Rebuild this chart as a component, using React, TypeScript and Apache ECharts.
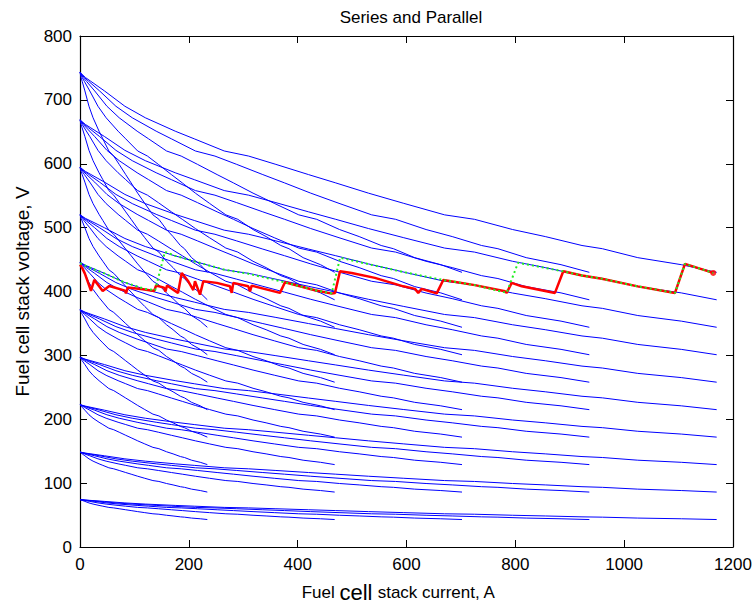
import React, { useEffect, useRef } from "react";
import * as echarts from "echarts";

// Single-stack polarization curve (A, V)
const baseCurrent = [0, 2, 4, 9, 16.5, 24, 35, 42, 53, 62, 72, 84, 94, 106, 119, 134, 145, 159, 171, 184.5, 192, 205, 221, 234];
const baseVoltage = [74.3, 73.5, 72.9, 71.4, 69.0, 67.2, 65.1, 63.9, 62.0, 61.2, 59.9, 58.3, 57.0, 55.4, 53.8, 52.0, 51.3, 49.7, 48.6, 47.2, 46.7, 45.3, 44.2, 43.0];

// Stacks in series and in parallel
const seriesCounts = [1, 2, 3, 4, 5, 6, 7, 8, 9, 10];
const parallelCounts = [1, 2, 3, 4, 5];

// Green dotted path
const greenCurrent = [0, 9, 18.5, 46, 82.5, 119.5, 138, 156, 174.5, 211, 266, 308.5, 376.7, 431.8, 462.5, 478, 529, 597, 667.6, 725.5, 784, 805, 854.5, 888, 922.5, 959, 1025, 1093.4, 1111.7, 1163.7];
const greenVoltage = [444, 441, 437, 428, 414, 404, 402, 462, 456, 447, 434, 428, 414.4, 402, 397, 453, 443, 430, 418, 410, 398, 445, 437, 431.6, 425, 420, 408, 397.8, 443.2, 429.1];

// Red operating path
const redCurrent = [0, 4, 9, 20.2, 26.3, 41.7, 53.8, 82.7, 84.5, 87.7, 115.2, 136.5, 139.7, 154.4, 157.1, 159.9, 180.1, 186.9, 199, 208.2, 211.3, 220.5, 226.6, 251.2, 275.6, 278.8, 281.7, 309.3, 312.4, 315.5, 367.5, 376.7, 431.8, 462.5, 468.6, 477.8, 499.3, 542.1, 594.1, 615.6, 621.6, 627.9, 655.5, 667.6, 725.5, 781, 784.1, 793.3, 811.7, 872.8, 888.1, 922.5, 959, 1025, 1093.4, 1111.7, 1163.7];
const redVoltage = [441.7, 437, 428, 400.9, 418.2, 400.9, 408.5, 401.4, 397.2, 406.1, 403.4, 400.9, 409.3, 406.1, 399.9, 409.3, 397.8, 429.1, 416, 402.2, 416, 395.1, 416, 413.5, 408.1, 397.8, 413.5, 408.1, 400.3, 409.2, 397.8, 414.4, 402, 396.7, 397.8, 431.6, 429.1, 421.3, 408.1, 404.1, 397.8, 404.1, 397, 418, 410, 400.3, 397.8, 413.5, 408.1, 397.8, 431.6, 425, 420, 408, 397.8, 443.2, 429.1];

const xTicks = { min: 0, max: 1200, interval: 200 };
const yTicks = { min: 0, max: 800, interval: 100 };

const FONT = "'Liberation Sans', Arial, Helvetica, sans-serif";

export default function App() {
  const ref = useRef<HTMLDivElement>(null);
  useEffect(() => {
    if (!ref.current) return;
    const chart = echarts.init(ref.current, null, { renderer: "svg" });
    const blue: any[] = [];
    seriesCounts.forEach((n) => {
      parallelCounts.forEach((m) => {
        blue.push({
          type: "line",
          name: `S${n}P${m}`,
          data: baseCurrent.map((c, k) => [c * m, baseVoltage[k] * n]),
          showSymbol: false,
          symbol: "none",
          lineStyle: { color: "#0000ff", width: 1 },
          silent: true,
          z: 2,
        });
      });
    });
    const axisCommon = {
      axisLine: { show: true, onZero: false, lineStyle: { color: "#000", width: 1.2 } },
      axisTick: { show: true, inside: true, length: 7, lineStyle: { color: "#000", width: 1 } },
      splitLine: { show: false },
    };
    const fmt = (v: number) => String(v);
    chart.setOption({
      animation: false,
      backgroundColor: "#fff",
      textStyle: { fontFamily: FONT },
      title: {
        text: "Series and Parallel",
        left: 406,
        top: 4,
        textAlign: "center",
        textStyle: { fontSize: 17, fontWeight: "normal", color: "#000", fontFamily: FONT },
      },
      grid: { left: 80, top: 36, width: 653, height: 511, containLabel: false, outerBoundsMode: "none" },
      xAxis: [
        {
          type: "value",
          position: "bottom",
          ...xTicks,
          ...axisCommon,
          axisLabel: { fontSize: 17, color: "#000", margin: 9, fontFamily: FONT, formatter: fmt },
          name: "Fuel {big|cell} stack current, A",
          nameLocation: "middle",
          nameGap: 34,
          nameTextStyle: {
            fontSize: 17,
            color: "#000",
            fontFamily: FONT,
            padding: [0, 16, 0, 0],
            rich: { big: { fontSize: 22, color: "#000", fontFamily: FONT } },
          },
        },
        {
          type: "value",
          position: "top",
          ...xTicks,
          ...axisCommon,
          axisLabel: { show: false },
        },
      ],
      yAxis: [
        {
          type: "value",
          position: "left",
          ...yTicks,
          ...axisCommon,
          axisLabel: { fontSize: 17, color: "#000", margin: 8, fontFamily: FONT, formatter: fmt },
          name: "Fuel cell stack voltage, V",
          nameLocation: "middle",
          nameGap: 48,
          nameTextStyle: { fontSize: 19, color: "#000", fontFamily: FONT },
        },
        {
          type: "value",
          position: "right",
          ...yTicks,
          ...axisCommon,
          axisLabel: { show: false },
        },
      ],
      series: [
        ...blue,
        {
          type: "line",
          name: "red",
          data: redCurrent.map((c, k) => [c, redVoltage[k]]),
          showSymbol: false,
          symbol: "none",
          lineStyle: { color: "#ff0000", width: 2.5 },
          z: 3,
        },
        {
          type: "scatter",
          name: "redEnd",
          data: [[redCurrent[redCurrent.length - 1], redVoltage[redVoltage.length - 1]]],
          symbol: "circle",
          symbolSize: 6,
          itemStyle: { color: "#ff0000" },
          z: 3,
        },
        {
          type: "line",
          name: "green",
          data: greenCurrent.map((c, k) => [c, greenVoltage[k]]),
          showSymbol: false,
          symbol: "none",
          lineStyle: { color: "#22ee22", width: 2, type: [2, 3] },
          z: 4,
        },
      ],
    });
    return () => chart.dispose();
  }, []);
  return (
    <div
      ref={ref}
      style={{ position: "fixed", left: 0, top: 0, width: 753, height: 605, background: "#fff" }}
    />
  );
}
